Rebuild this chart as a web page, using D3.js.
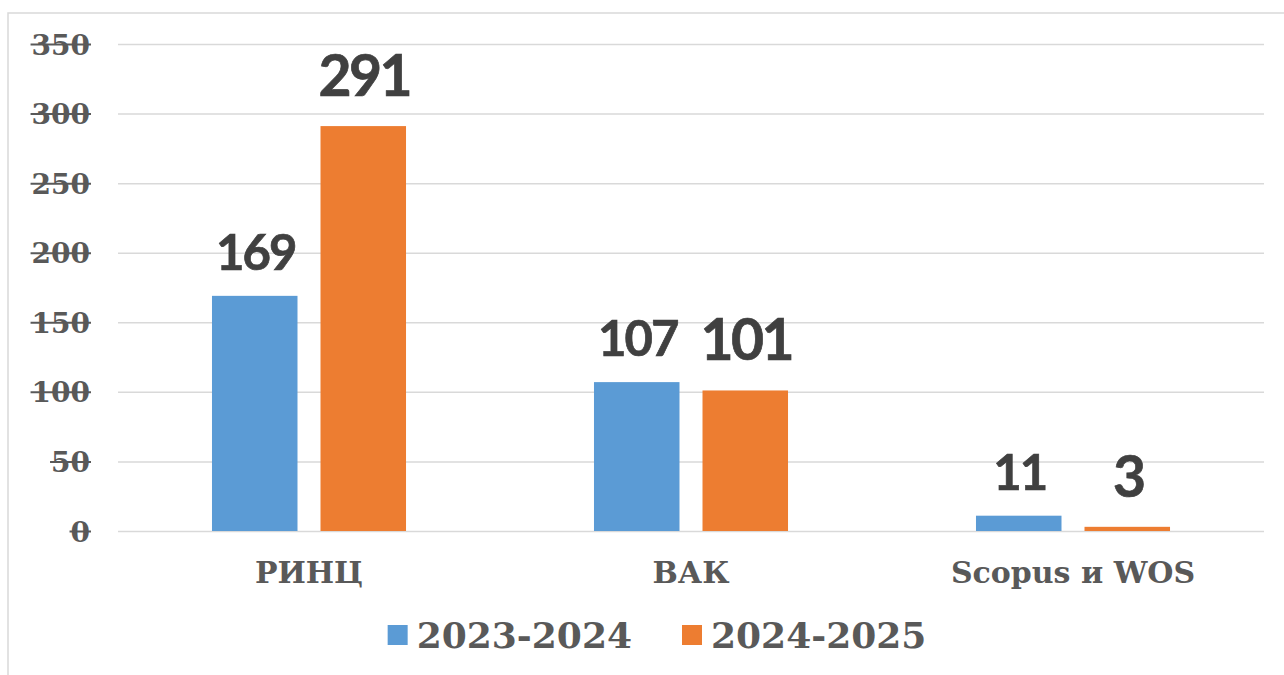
<!DOCTYPE html>
<html>
<head>
<meta charset="utf-8">
<script src="https://cdn.jsdelivr.net/npm/d3@7"></script>
<style>
  body { margin: 0; background: #fff; }
  svg { display: block; }
</style>
</head>
<body>
<svg></svg>
<script>
// chart data
let categories = ["РИНЦ", "ВАК", "Scopus и WOS"]
let seriesNames = ["2023-2024", "2024-2025"]
let values2023 = [169, 107, 11]
let values2024 = [291, 101, 3]
let yTicks = [0, 50, 100, 150, 200, 250, 300, 350]

let colors = ["#5B9BD5", "#ED7D31"]

let width = 1284
let height = 675
let plotLeft = 118
let plotRight = 1264
let plotTop = 44
let plotBottom = 531

let serif = "'DejaVu Serif', Georgia, serif"
let sans = "Lato, 'Open Sans', sans-serif"

let svg = d3.select("svg")
  .attr("width", width)
  .attr("height", height)

// outer frame (only left and top visible)
svg.append("path")
   .attr("d", "M8," + height + "V13H" + width)
   .attr("fill", "none")
   .attr("stroke", "#d9d9d9")
   .attr("stroke-width", 1.5)

let rows = categories.map((c, i) => ({ cat: c, vals: [values2023[i], values2024[i]] }))

let xScale = d3.scaleBand()
               .domain(categories)
               .range([plotLeft, plotRight])

let xInner = d3.scaleBand()
               .domain(seriesNames)
               .range([0, xScale.bandwidth()])
               .paddingInner(0.212)
               .paddingOuter(0.866)

let yScale = d3.scaleLinear()
               .domain([0, 350])
               .range([plotBottom, plotTop])

// gridlines
let grid = svg.append("g")
  .attr("transform", "translate(" + plotLeft + ",0)")
  .call(d3.axisLeft(yScale).tickValues(yTicks).tickSize(-(plotRight - plotLeft)).tickFormat(""))
grid.select(".domain").remove()
grid.selectAll(".tick line")
    .attr("stroke", "#d9d9d9")
    .attr("stroke-width", 1.5)

// y labels (struck through by the grid, like the original)
let yAxis = svg.append("g")
  .attr("transform", "translate(90,0)")
  .call(d3.axisLeft(yScale).tickValues(yTicks).tickSize(0).tickPadding(0))
yAxis.select(".domain").remove()
yAxis.selectAll(".tick text")
     .attr("dy", 10)
     .attr("fill", "#595959")
     .style("font-family", serif)
     .style("font-weight", "bold")
     .style("font-size", "28px")
yAxis.selectAll(".tick").each(function () {
  let t = d3.select(this).select("text")
  let w = t.node().getComputedTextLength()
  d3.select(this).append("line")
    .attr("x1", -w - 1).attr("x2", 1)
    .attr("y1", 0).attr("y2", 0)
    .attr("stroke", "#595959")
    .attr("stroke-width", 2)
})

// bars
let groups = svg.selectAll(".cat")
  .data(rows)
  .enter()
  .append("g")
  .attr("class", "cat")
  .attr("transform", d => "translate(" + xScale(d.cat) + ",0)")

groups.selectAll("rect")
  .data(d => d.vals.map((v, i) => ({ name: seriesNames[i], v: v, i: i })))
  .enter()
  .append("rect")
  .attr("x", d => xInner(d.name))
  .attr("y", d => yScale(d.v))
  .attr("width", xInner.bandwidth())
  .attr("height", d => plotBottom - yScale(d.v))
  .attr("fill", d => colors[d.i])

// value labels - second series is printed larger
groups.selectAll(".val")
  .data(d => d.vals.map((v, i) => ({ name: seriesNames[i], v: v, i: i })))
  .enter()
  .append("text")
  .attr("class", "val")
  .attr("x", d => xInner(d.name) + xInner.bandwidth() / 2 + 1)
  .attr("y", d => yScale(d.v) - (d.i == 0 ? 26 : 30))
  .attr("text-anchor", "middle")
  .attr("fill", "#404040")
  .attr("stroke", "#404040")
  .attr("stroke-width", 0.7)
  .style("font-family", sans)
  .style("font-weight", "bold")
  .style("font-size", d => d.i == 0 ? "49px" : "57px")
  .style("letter-spacing", d => d.i == 0 ? "-2px" : "-2.5px")
  .text(d => d.v)

// category labels
let xAxis = svg.append("g")
  .attr("transform", "translate(0," + plotBottom + ")")
  .call(d3.axisBottom(xScale).tickSize(0).tickPadding(0))
xAxis.select(".domain").remove()
xAxis.selectAll(".tick text")
     .attr("dy", 0)
     .attr("y", 52)
     .attr("fill", "#595959")
     .style("font-family", serif)
     .style("font-weight", "bold")
     .style("font-size", "30px")

// legend
let legend = svg.append("g")
let lx = 0
seriesNames.forEach((name, i) => {
  let item = legend.append("g").attr("transform", "translate(" + lx + ",0)")
  item.append("rect")
      .attr("x", 0).attr("y", 625)
      .attr("width", 20).attr("height", 20)
      .attr("fill", colors[i])
  let t = item.append("text")
      .attr("x", 29).attr("y", 648)
      .attr("fill", "#595959")
      .style("font-family", serif)
      .style("font-weight", "bold")
      .style("font-size", "36px")
      .text(name)
  lx += 29 + t.node().getComputedTextLength() + 50
})
let legendW = lx - 50
legend.attr("transform", "translate(" + (657 - legendW / 2) + ",0)")
</script>
</body>
</html>
